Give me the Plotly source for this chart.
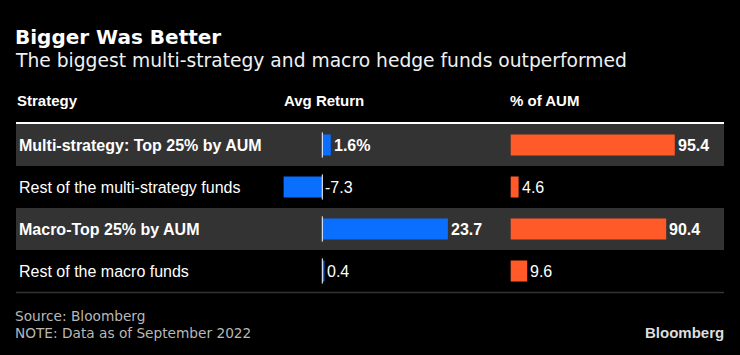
import plotly.graph_objects as go

# ---- data ----
categories = [
    "Multi-strategy: Top 25% by AUM",
    "Rest of the multi-strategy funds",
    "Macro-Top 25% by AUM",
    "Rest of the macro funds",
]
highlight = [True, False, True, False]
avg_return = [1.6, -7.3, 23.7, 0.4]
avg_return_labels = ["1.6%", "-7.3", "23.7", "0.4"]
pct_aum = [95.4, 4.6, 90.4, 9.6]
pct_aum_labels = ["95.4", "4.6", "90.4", "9.6"]
headers = ["Strategy", "Avg Return", "% of AUM"]

W, H = 740, 355
BG = "#000000"
BAND = "#333333"
BLUE = "#0A6EFF"
ORANGE = "#FF5A28"
SANS = "Liberation Sans, Arial, Helvetica, sans-serif"
TITLE_FONT = "DejaVu Sans, sans-serif"

def px(x):
    return x / W

def py(y):
    return 1 - y / H

fig = go.Figure()

fig.add_trace(go.Bar(
    y=categories, x=avg_return, orientation="h",
    marker=dict(color=BLUE, line=dict(width=0)),
    xaxis="x", yaxis="y", hoverinfo="skip", showlegend=False,
))
fig.add_trace(go.Bar(
    y=categories, x=pct_aum, orientation="h",
    marker=dict(color=ORANGE, line=dict(width=0)),
    xaxis="x2", yaxis="y", hoverinfo="skip", showlegend=False,
))

shapes = []
annotations = []

# row bands
for i, h in enumerate(highlight):
    if h:
        shapes.append(dict(type="rect", xref="paper", yref="y",
                           x0=px(16), x1=px(724), y0=i - 0.5, y1=i + 0.5,
                           fillcolor=BAND, line=dict(width=0), layer="below"))
# zero line segments for avg return
for i in range(len(categories)):
    shapes.append(dict(type="line", xref="x", yref="y", x0=0, x1=0,
                       y0=i - 0.3, y1=i + 0.3,
                       line=dict(color="#FFFFFF", width=1), layer="above"))
# header rule and bottom rule
shapes.append(dict(type="line", xref="paper", yref="paper",
                   x0=px(16), x1=px(724), y0=py(123), y1=py(123),
                   line=dict(color="#FFFFFF", width=2)))
shapes.append(dict(type="line", xref="paper", yref="paper",
                   x0=px(16), x1=px(724), y0=py(292.5), y1=py(292.5),
                   line=dict(color="#333333", width=1.5)))

# row labels
for i, (c, h) in enumerate(zip(categories, highlight)):
    annotations.append(dict(
        xref="paper", yref="y", x=px(17), y=i, text=(f"<b>{c}</b>" if h else c),
        showarrow=False, xanchor="left", yanchor="middle",
        font=dict(family=SANS, size=16, color="#FFFFFF")))

# value labels
for i, (v, lab, h) in enumerate(zip(avg_return, avg_return_labels, highlight)):
    annotations.append(dict(
        xref="x", yref="y", x=max(v, 0), y=i, text=(f"<b>{lab}</b>" if h else lab),
        showarrow=False, xanchor="left", yanchor="middle", xshift=1,
        font=dict(family=SANS, size=16, color="#FFFFFF")))
for i, (v, lab, h) in enumerate(zip(pct_aum, pct_aum_labels, highlight)):
    annotations.append(dict(
        xref="x2", yref="y", x=v, y=i, text=(f"<b>{lab}</b>" if h else lab),
        showarrow=False, xanchor="left", yanchor="middle", xshift=1,
        font=dict(family=SANS, size=16, color="#FFFFFF")))

# headers
for hx, htxt in zip([15, 282, 508], headers):
    annotations.append(dict(
        xref="paper", yref="paper", x=px(hx), y=py(100), text=f"<b>{htxt}</b>",
        showarrow=False, xanchor="left", yanchor="middle",
        font=dict(family=SANS, size=15, color="#FFFFFF")))

# title / subtitle
annotations.append(dict(
    xref="paper", yref="paper", x=px(13), y=py(37), text="<b>Bigger Was Better</b>",
    showarrow=False, xanchor="left", yanchor="middle",
    font=dict(family=TITLE_FONT, size=20, color="#FFFFFF")))
annotations.append(dict(
    xref="paper", yref="paper", x=px(13), y=py(60),
    text="The biggest multi-strategy and macro hedge funds outperformed",
    showarrow=False, xanchor="left", yanchor="middle",
    font=dict(family=TITLE_FONT, size=18.7, color="#F0F0F0")))

# footer
annotations.append(dict(
    xref="paper", yref="paper", x=px(13), y=py(316), text="Source: Bloomberg",
    showarrow=False, xanchor="left", yanchor="middle",
    font=dict(family=TITLE_FONT, size=13.7, color="#B8B8B8")))
annotations.append(dict(
    xref="paper", yref="paper", x=px(13), y=py(333), text="NOTE: Data as of September 2022",
    showarrow=False, xanchor="left", yanchor="middle",
    font=dict(family=TITLE_FONT, size=13.7, color="#B8B8B8")))
annotations.append(dict(
    xref="paper", yref="paper", x=px(726), y=py(332), text="<b>Bloomberg</b>",
    showarrow=False, xanchor="right", yanchor="middle",
    font=dict(family=SANS, size=15, color="#DDDDDD")))

fig.update_layout(
    width=W, height=H,
    margin=dict(l=0, r=0, t=0, b=0),
    paper_bgcolor=BG, plot_bgcolor="rgba(0,0,0,0)",
    bargap=0.5,
    xaxis=dict(domain=[px(240), px(500)], range=[-(322.3 - 240) / 5.3, (500 - 322.3) / 5.3],
               visible=False, fixedrange=True),
    xaxis2=dict(domain=[px(505), px(720)], range=[-(510.7 - 505) / 1.72, (720 - 510.7) / 1.72],
                visible=False, fixedrange=True),
    yaxis=dict(domain=[py(292), py(124)], autorange="reversed", visible=False,
               fixedrange=True, categoryorder="array", categoryarray=categories),
    shapes=shapes,
    annotations=annotations,
)

fig.write_html(
    "out.html",
    config={"displayModeBar": False},
    post_script="document.body.style.margin='0';document.body.style.background='#000';",
)
